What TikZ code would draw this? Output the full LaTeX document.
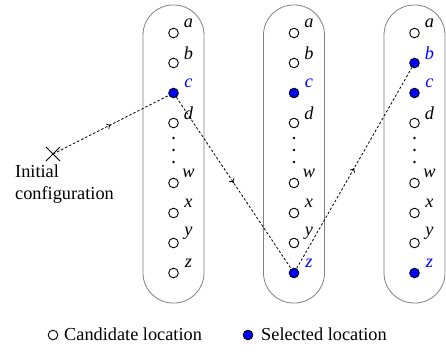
\documentclass[tikz,border=0pt]{standalone}
\usepackage{fontspec}
\setmainfont{Liberation Serif}
\usetikzlibrary{decorations.markings,arrows.meta}
\begin{document}
\begin{tikzpicture}[x=1pt,y=-1pt,
  cand/.style={circle,draw,line width=0.9pt,minimum size=9.6pt,inner sep=0pt,fill=white},
  lab/.style={font=\fontsize{18.3}{22}\selectfont\itshape,inner sep=0pt},
  txt/.style={font=\fontsize{18.3}{22}\selectfont,inner sep=0pt},
  capsule/.style={draw=gray,line width=0.8pt,rounded corners=30pt},
  trail/.style={dash pattern=on 2.5pt off 2pt,line width=0.8pt,postaction={decorate},
    decoration={markings,mark=at position 0.5 with {\arrow[solid]{To[length=4pt,width=6pt]}}}},
  s1c/.style={fill=blue}, t1c/.style={text=blue},
  s2c/.style={fill=blue}, t2c/.style={text=blue},
  s2z/.style={fill=blue}, t2z/.style={text=blue},
  s3b/.style={fill=blue}, t3b/.style={text=blue},
  s3c/.style={fill=blue}, t3c/.style={text=blue},
  s3z/.style={fill=blue}, t3z/.style={text=blue}
]
\useasboundingbox (0,0) rectangle (446,353);
\foreach \col/\cx in {1/173.5,2/294,3/414.5} {
  \draw[capsule] (\cx-30.5,5) rectangle (\cx+30.5,303);
  \foreach \n/\cy in {a/33,b/63,c/93,d/123,w/183,x/213,y/243,z/273} {
    \node[cand,s\col\n/.try] (\n\col) at (\cx,\cy) {};
    \node[lab,t\col\n/.try] (l\n\col) at (\cx+15,\cy-10) {\n};
  }
  \foreach \dy [count=\k] in {138,150,162} {
    \fill (\cx,\dy) circle (1.3pt);
  }
}
% initial configuration
\coordinate (init) at (53,154);
\draw[line width=0.9pt] (46,147) -- (60,161) (46,161) -- (60,147);
\node[txt,anchor=base west] (inittxt1) at (15,177) {Initial};
\node[txt,anchor=base west] (inittxt2) at (15,199) {configuration};
% trails
\draw[trail] (init) -- (c1);
\draw[trail] (c1) -- (z2);
\draw[trail] (z2) -- (b3);
% legend
\node[cand] (legc) at (53,335) {};
\node[txt,anchor=base west] (legct) at (64,340) {Candidate location};
\node[cand,fill=blue] (legs) at (248,335) {};
\node[txt,anchor=base west] (legst) at (261,340) {Selected location};
\end{tikzpicture}
\end{document}
